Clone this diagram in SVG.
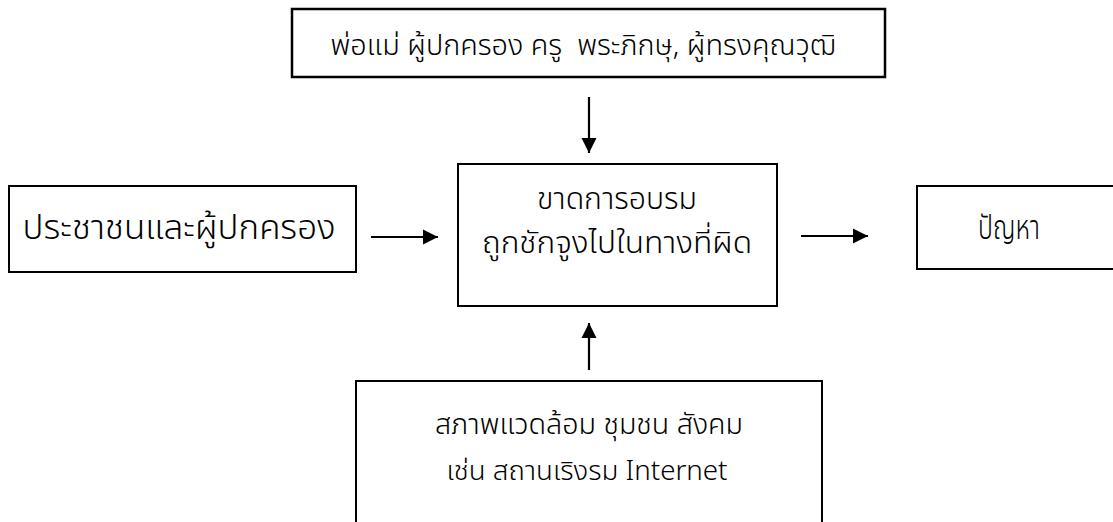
<svg xmlns="http://www.w3.org/2000/svg" width="1113" height="522" viewBox="0 0 1113 522">
<style>
.box{fill:#fff;stroke:#000;stroke-width:2}
.t{font-family:"Noto Sans Thai","Noto Sans","DejaVu Sans",sans-serif;fill:#000;text-anchor:middle;font-weight:300}
.n{font-size:34px}
.m{font-size:31px}
.c{stroke:#000;stroke-width:2.2;fill:none}
</style>
<defs>
<marker id="ah" viewBox="0 0 10 10" refX="10" refY="5" markerWidth="7" markerHeight="7" markerUnits="strokeWidth" orient="auto">
<path d="M0,0 L10,5 L0,10 z" fill="#000"/>
</marker>
</defs>
<rect width="1113" height="522" fill="#fff"/>
<g id="connectors">
<line class="c" x1="589" y1="97" x2="589" y2="153" marker-end="url(#ah)"/>
<line class="c" x1="371" y1="237" x2="438" y2="237" marker-end="url(#ah)"/>
<line class="c" x1="801" y1="236" x2="868" y2="236" marker-end="url(#ah)"/>
<line class="c" x1="589" y1="370" x2="589" y2="323" marker-end="url(#ah)"/>
</g>
<g id="top">
<rect class="box" x="292" y="9" width="593" height="68" style="stroke-width:2.5"/>
<text class="t" x="583" y="55" font-size="28" textLength="505" lengthAdjust="spacingAndGlyphs" xml:space="preserve">พ่อแม่ ผู้ปกครอง ครู  พระภิกษุ, ผู้ทรงคุณวุฒิ</text>
</g>
<g id="left">
<rect class="box" x="9" y="186" width="347" height="86"/>
<text class="t n" x="179" y="239" textLength="313" lengthAdjust="spacingAndGlyphs">ประชาชนและผู้ปกครอง</text>
</g>
<g id="center">
<rect class="box" x="458" y="164" width="319" height="142"/>
<text class="t m" x="617" y="209" textLength="160" lengthAdjust="spacingAndGlyphs">ขาดการอบรม</text>
<text class="t m" x="617" y="253" textLength="270" lengthAdjust="spacingAndGlyphs">ถูกชักจูงไปในทางที่ผิด</text>
</g>
<g id="right">
<rect class="box" x="917" y="186" width="210" height="83"/>
<text class="t n" x="1009" y="239" textLength="62" lengthAdjust="spacingAndGlyphs">ปัญหา</text>
</g>
<g id="bottom">
<rect class="box" x="356" y="381" width="466" height="160"/>
<text class="t" x="589" y="434" font-size="28" textLength="308" lengthAdjust="spacingAndGlyphs">สภาพแวดล้อม ชุมชน สังคม</text>
<text class="t" x="587" y="480" font-size="27" textLength="281" lengthAdjust="spacingAndGlyphs">เช่น สถานเริงรม Internet</text>
</g>
</svg>
